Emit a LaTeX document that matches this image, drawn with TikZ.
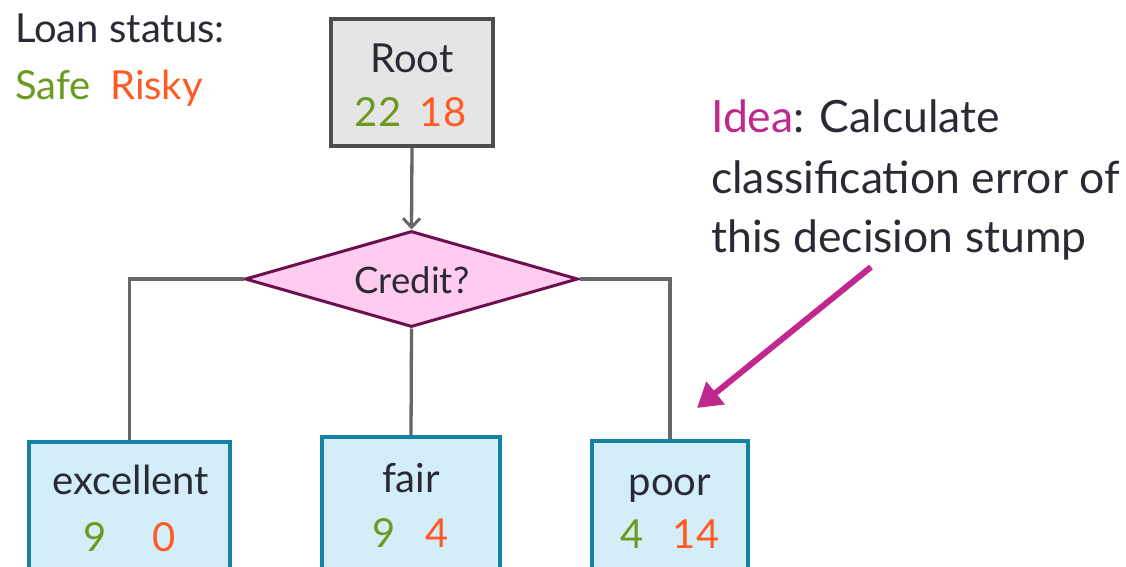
\documentclass[tikz,border=0pt]{standalone}
\usepackage{fontspec}
\setmainfont{Lato}
\usetikzlibrary{shapes.geometric,arrows.meta}
\definecolor{safe}{HTML}{6B9A1F}
\definecolor{risky}{HTML}{FF5A22}
\definecolor{ink}{HTML}{2A2A35}
\definecolor{rootfill}{HTML}{E5E5E5}
\definecolor{rootdraw}{HTML}{4D4D4D}
\definecolor{conn}{HTML}{666666}
\definecolor{diafill}{HTML}{FFCCF0}
\definecolor{diadraw}{HTML}{6B0F4F}
\definecolor{leaffill}{HTML}{D3EEF8}
\definecolor{leafdraw}{HTML}{1581A5}
\definecolor{idea}{HTML}{C0288F}
\tikzset{
  rootbox/.style={draw=rootdraw,fill=rootfill,line width=3.6pt,inner sep=0pt},
  leafbox/.style={draw=leafdraw,fill=leaffill,line width=3.6pt,inner sep=0pt},
  decision/.style={diamond,draw=diadraw,fill=diafill,line width=3pt,inner sep=0pt,aspect=3.47},
  connector/.style={draw=conn,line width=3.3pt},
  lbl/.style={anchor=base,inner sep=0pt,text=ink,font=\fontsize{40}{48}\selectfont},
  big/.style={anchor=base west,inner sep=0pt,text=ink,font=\fontsize{44.5}{56}\selectfont},
}
\begin{document}
\begin{tikzpicture}[x=1pt,y=-1pt]
\useasboundingbox (0,0) rectangle (1126,567);
% legend
\node[lbl,anchor=base west] (legend) at (15,43) {Loan status:};
\node[lbl,anchor=base west,text=safe] (safe) at (15,100) {Safe};
\node[lbl,anchor=base west,text=risky] (risky) at (110,100) {Risky};
% root
\node[rootbox,minimum width=162pt,minimum height=127pt] (root) at (412,82.5) {};
\node[lbl] (roott) at (412,73) {Root};
\node[lbl,text=safe] (r1) at (378,127) {22};
\node[lbl,text=risky] (r2) at (443,127) {18};
% decision
\node[decision,minimum width=333pt,minimum height=96pt] (dia) at (411.5,279) {};
\node[lbl,font=\fontsize{36.5}{42}\selectfont] (diat) at (412,293) {Credit?};
% leaves
\node[leafbox,minimum width=201pt,minimum height=150pt] (exc) at (129.5,517) {};
\node[leafbox,minimum width=178pt,minimum height=155pt] (fair) at (411,514.5) {};
\node[leafbox,minimum width=156pt,minimum height=150pt] (poor) at (670,516) {};
\node[lbl] (exct) at (131,494) {excellent};
\node[lbl,text=safe] (e1) at (95,551) {9};
\node[lbl,text=risky] (e2) at (164,551) {0};
\node[lbl] (fairt) at (411,492) {fair};
\node[lbl,text=safe] (f1) at (384,547) {9};
\node[lbl,text=risky] (f2) at (437,547) {4};
\node[lbl] (poort) at (670,495) {poor};
\node[lbl,text=safe] (p1) at (632,548) {4};
\node[lbl,text=risky] (p2) at (696,548) {14};
% connectors
\draw[connector,-{Straight Barb[length=9pt,width=17pt,line width=3pt]}] (root.south) -- (dia.north);
\draw[connector] (dia.west) -| (exc.north);
\draw[connector] (dia.south) -- (fair.north);
\draw[connector] (dia.east) -| (poor.north);
% idea
\node[big] (i1) at (711,132) {\textcolor{idea}{Idea}: Calculate};
\node[big] (i2) at (711,193) {classification error of};
\node[big] (i3) at (711,252) {this decision stump};
\coordinate (astart) at (871,267);
\coordinate (aend) at (697,408);
\draw[draw=idea,line width=6pt,-{Triangle[length=24pt,width=28pt]}] (astart) -- (aend);
\end{tikzpicture}
\end{document}
